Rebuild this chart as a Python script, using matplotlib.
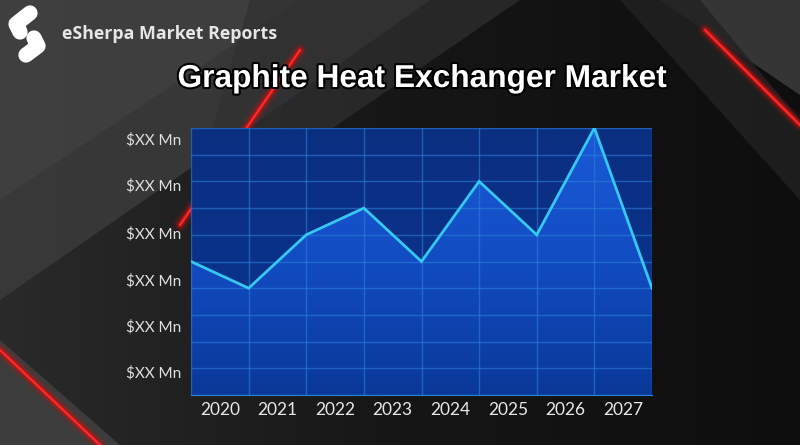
import numpy as np
import matplotlib
matplotlib.use("Agg")
import matplotlib.pyplot as plt
import matplotlib.patheffects as pe
from matplotlib.patches import Polygon
from matplotlib.colors import LinearSegmentedColormap

# chart data
years = ['2020', '2021', '2022', '2023', '2024', '2025', '2026', '2027']
values = [5, 4, 6, 7, 5, 8, 6, 10, 4]
y_labels = ['$XX Mn'] * 6
y_label_pos = [0.8, 2.55, 4.27, 6.03, 7.8, 9.55]

W, H = 800, 445
fig = plt.figure(figsize=(8, 4.45), dpi=100)

# background (pixel coordinates, y down)
bg = fig.add_axes([0, 0, 1, 1])
bg.set_xlim(0, W)
bg.set_ylim(H, 0)
bg.axis('off')
grad = np.linspace(0, 1, 256).reshape(1, -1)
bg.imshow(grad, extent=[0, W, H, 0], aspect='auto',
          cmap=LinearSegmentedColormap.from_list('bg', ['#2a2a2a', '#161616', '#0e0e0e']))

shapes = [
    ([(0, 0), (430, 0), (260, 120), (0, 300)], '#3a3a3a', 0.9),
    ([(0, 0), (300, 0), (0, 200)], '#444444', 0.6),
    ([(250, 0), (520, 0), (330, 130), (200, 170)], '#303030', 0.7),
    ([(0, 340), (120, 445), (0, 445)], '#3c3c3c', 1.0),
    ([(660, 0), (800, 0), (800, 95)], '#3a3a3a', 0.9),
    ([(620, 0), (700, 0), (800, 120), (800, 200)], '#222222', 0.8),
]
for pts, c, a in shapes:
    bg.add_patch(Polygon(pts, closed=True, color=c, alpha=a, lw=0))

streaks = [((180, 225), (300, 50)), ((0, 350), (100, 445)), ((705, 30), (800, 125))]
for (x0, y0), (x1, y1) in streaks:
    for lw, a in [(10, 0.12), (6, 0.3), (3.5, 0.6), (1.5, 1.0)]:
        bg.plot([x0, x1], [y0, y1], color='#ff2a2a' if lw < 2 else '#d01010',
                lw=lw, alpha=a, solid_capstyle='round')

# logo
s_path = [(30, 13), (16, 24), (20, 32), (34, 38), (38, 46), (26, 55)]
bg.plot([p[0] for p in s_path[:3]], [p[1] for p in s_path[:3]], color='white',
        lw=11, solid_capstyle='round', solid_joinstyle='round')
bg.plot([p[0] for p in s_path[3:]], [p[1] for p in s_path[3:]], color='white',
        lw=11, solid_capstyle='round', solid_joinstyle='round')
bg.text(62, 34, 'eSherpa Market Reports', color='#e6e6e6', fontsize=12.8,
        fontfamily='Open Sans', fontweight='bold', va='center', ha='left')

# title
bg.text(422, 79, 'Graphite Heat Exchanger Market', color='white', fontsize=22.8,
        fontfamily='Liberation Sans', fontweight='bold', ha='center', va='center',
        path_effects=[pe.withStroke(linewidth=3, foreground='black')])

# chart
ax = fig.add_axes([191 / W, 50 / H, 461 / W, 267 / H])
x = np.arange(len(values))
ax.set_xlim(0, len(years))
ax.set_ylim(0, 10)

ax.imshow(np.linspace(0, 1, 256).reshape(-1, 1), extent=[0, 8, 0, 10], aspect='auto',
          cmap=LinearSegmentedColormap.from_list('top', ['#0a3694', '#0b2e80']),
          origin='lower', zorder=0)
fill = ax.fill_between(x, values, 0, color='none')
under = ax.imshow(np.linspace(0, 1, 256).reshape(-1, 1), extent=[0, 8, 0, 10], aspect='auto',
                  cmap=LinearSegmentedColormap.from_list('under', ['#0a3898', '#124cc2', '#1a5ad8']),
                  origin='lower', zorder=1)
under.set_clip_path(fill.get_paths()[0], transform=ax.transData)

ax.set_xticks(np.arange(0, 9), minor=False)
ax.set_yticks(np.arange(0, 11))
ax.grid(True, color='#2a80d8', lw=1.0, alpha=0.6, zorder=2)
ax.set_axisbelow(False)
ax.plot(x, values, color='#35c8f2', lw=2, zorder=3, solid_joinstyle='miter')

ax.set_xticklabels([])
ax.set_yticklabels([])
ax.tick_params(length=0)
for s in ax.spines.values():
    s.set_visible(False)
ax.spines['bottom'].set_visible(True)
ax.spines['bottom'].set_color('#2a80d8')

for i, yr in enumerate(years):
    ax.text(i + 0.5, -0.55, yr, color='#e8e8e8', fontsize=12.5, fontfamily='Lato',
            ha='center', va='center', clip_on=False)
for p, lab in zip(y_label_pos, y_labels):
    ax.text(-0.17, p, lab, color='#e0e0e0', fontsize=11, fontfamily='Lato',
            ha='right', va='center', clip_on=False)

fig.savefig('out.png', dpi=100)
